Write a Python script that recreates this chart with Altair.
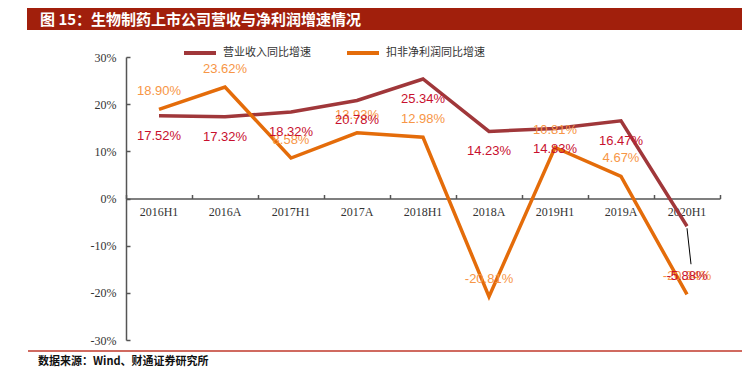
import altair as alt
import pandas as pd

categories = ["2016H1", "2016A", "2017H1", "2017A", "2018H1", "2018A", "2019H1", "2019A", "2020H1"]
revenue_growth = [17.52, 17.32, 18.32, 20.78, 25.34, 14.23, 14.83, 16.47, -5.88]
profit_growth = [18.90, 23.62, 8.58, 13.93, 12.98, -20.81, 10.81, 4.67, -20.34]
series_names = ["营业收入同比增速", "扣非净利润同比增速"]
y_ticks = [-30, -20, -10, 0, 10, 20, 30]
title_text = "图 15：生物制药上市公司营收与净利润增速情况"
source_text = "数据来源：Wind、财通证券研究所"

rows = []
for c, v in zip(categories, revenue_growth):
    rows.append({"cat": c, "series": series_names[0], "value": v, "label": f"{v:.2f}%"})
for c, v in zip(categories, profit_growth):
    rows.append({"cat": c, "series": series_names[1], "value": v, "label": f"{v:.2f}%"})
df = pd.DataFrame(rows)
one = pd.DataFrame({"k": [0]})

W, H = 594, 283
RED_LINE = "#A0373A"
ORANGE_LINE = "#E46C0A"
RED_TEXT = "#C8102E"
ORANGE_TEXT = "#F79646"
TITLE_BG = "#A11F0C"

xscale = alt.Scale(type="band", paddingInner=0, paddingOuter=0)
yscale = alt.Scale(domain=[-30, 30], nice=False, zero=False)

x_bottom = alt.X("cat:N", sort=categories, scale=xscale,
                 axis=alt.Axis(orient="bottom", offset=-H / 2, domain=False, ticks=False,
                               labelPadding=8, labelAngle=0, labelFont="Liberation Serif",
                               labelFontSize=12, labelColor="#333333", title=None, grid=False))
y_left = alt.Y("value:Q", scale=yscale,
               axis=alt.Axis(orient="left", values=y_ticks, labelExpr="datum.value + '%'",
                             domain=True, domainColor="#555555", domainWidth=1.5, ticks=False,
                             labelPadding=10, labelFont="Liberation Serif", labelFontSize=12,
                             labelColor="#333333", title=None, grid=False))

x_top = alt.X("cat:N", sort=categories, scale=xscale,
              axis=alt.Axis(orient="top", offset=-H / 2, domain=True, domainColor="#555555",
                            domainWidth=1.5, ticks=True, tickBand="extent", tickSize=4,
                            tickColor="#555555", tickWidth=1.5, labels=False, title=None, grid=False))
y_right = alt.Y("value:Q", scale=yscale,
                axis=alt.Axis(orient="right", offset=-W, values=y_ticks, domain=False, ticks=True,
                              tickSize=4, tickColor="#555555", tickWidth=1.5, labels=False,
                              title=None, grid=False))

x_plain = alt.X("cat:N", sort=categories, scale=xscale, axis=None)
y_plain = alt.Y("value:Q", scale=yscale, axis=None)

lines = alt.Chart(df).mark_line(strokeWidth=3.5).encode(
    x=x_bottom, y=y_left,
    color=alt.Color("series:N", scale=alt.Scale(domain=series_names, range=[RED_LINE, ORANGE_LINE]),
                    sort=series_names,
                    legend=alt.Legend(title=None, orient="none", legendX=56, legendY=-22,
                                      direction="horizontal", symbolType="stroke",
                                      symbolSize=1024, symbolStrokeWidth=4, labelOffset=5,
                                      columnPadding=28, labelFont="Noto Sans CJK SC",
                                      labelFontSize=11, labelColor="#333333", padding=0)),
)

axes_layer = alt.Chart(df).mark_line(opacity=0).encode(x=x_top, y=y_right, detail="series:N")

orange_labels = alt.Chart(df).transform_filter(
    alt.datum.series == series_names[1]
).mark_text(dy=-18, font="Liberation Sans", fontSize=13, color=ORANGE_TEXT).encode(
    x=x_plain, y=y_plain, text="label:N")

red_labels = alt.Chart(df).transform_filter(
    (alt.datum.series == series_names[0]) & (alt.datum.cat != "2020H1")
).mark_text(dy=20, font="Liberation Sans", fontSize=13, color=RED_TEXT).encode(
    x=x_plain, y=y_plain, text="label:N")

red_last = alt.Chart(df).transform_filter(
    (alt.datum.series == series_names[0]) & (alt.datum.cat == "2020H1")
).mark_text(dy=50, font="Liberation Sans", fontSize=13, color=RED_TEXT).encode(
    x=x_plain, y=y_plain, text="label:N")

leader = alt.Chart(df).transform_filter(
    (alt.datum.series == series_names[0]) & (alt.datum.cat == "2020H1")
).mark_rule(color="black", strokeWidth=1, yOffset=2, y2Offset=38, x2Offset=4).encode(
    x=x_plain, y=y_plain, x2="cat:N", y2="value:Q")

title_bar = alt.Chart(one).mark_rect(color=TITLE_BG).encode(
    x=alt.value(-99), x2=alt.value(640), y=alt.value(-60), y2=alt.value(-27))
title = alt.Chart(one).mark_text(align="left", baseline="middle", font="Noto Sans CJK SC",
                                 fontSize=15, fontWeight="bold", color="white").encode(
    x=alt.value(-86), y=alt.value(-37), text=alt.value(title_text))
bottom_rule = alt.Chart(one).mark_rule(color="#C0392B", strokeWidth=1.5).encode(
    x=alt.value(-98), x2=alt.value(640), y=alt.value(294))
source = alt.Chart(one).mark_text(align="left", baseline="middle", font="Noto Sans CJK SC",
                                  fontSize=11, fontWeight="bold", color="#111111").encode(
    x=alt.value(-88), y=alt.value(305), text=alt.value(source_text))

chart = alt.layer(
    title_bar, title, bottom_rule, source,
    axes_layer, lines, leader, orange_labels, red_labels, red_last,
).resolve_axis(x="independent", y="independent").properties(
    width=W, height=H,
    autosize=alt.AutoSizeParams(type="none"),
    padding={"left": 118, "top": 49, "right": 22, "bottom": 30},
).configure_view(stroke=None)

chart.save("out.html", embed_options={"renderer": "svg", "actions": False})
